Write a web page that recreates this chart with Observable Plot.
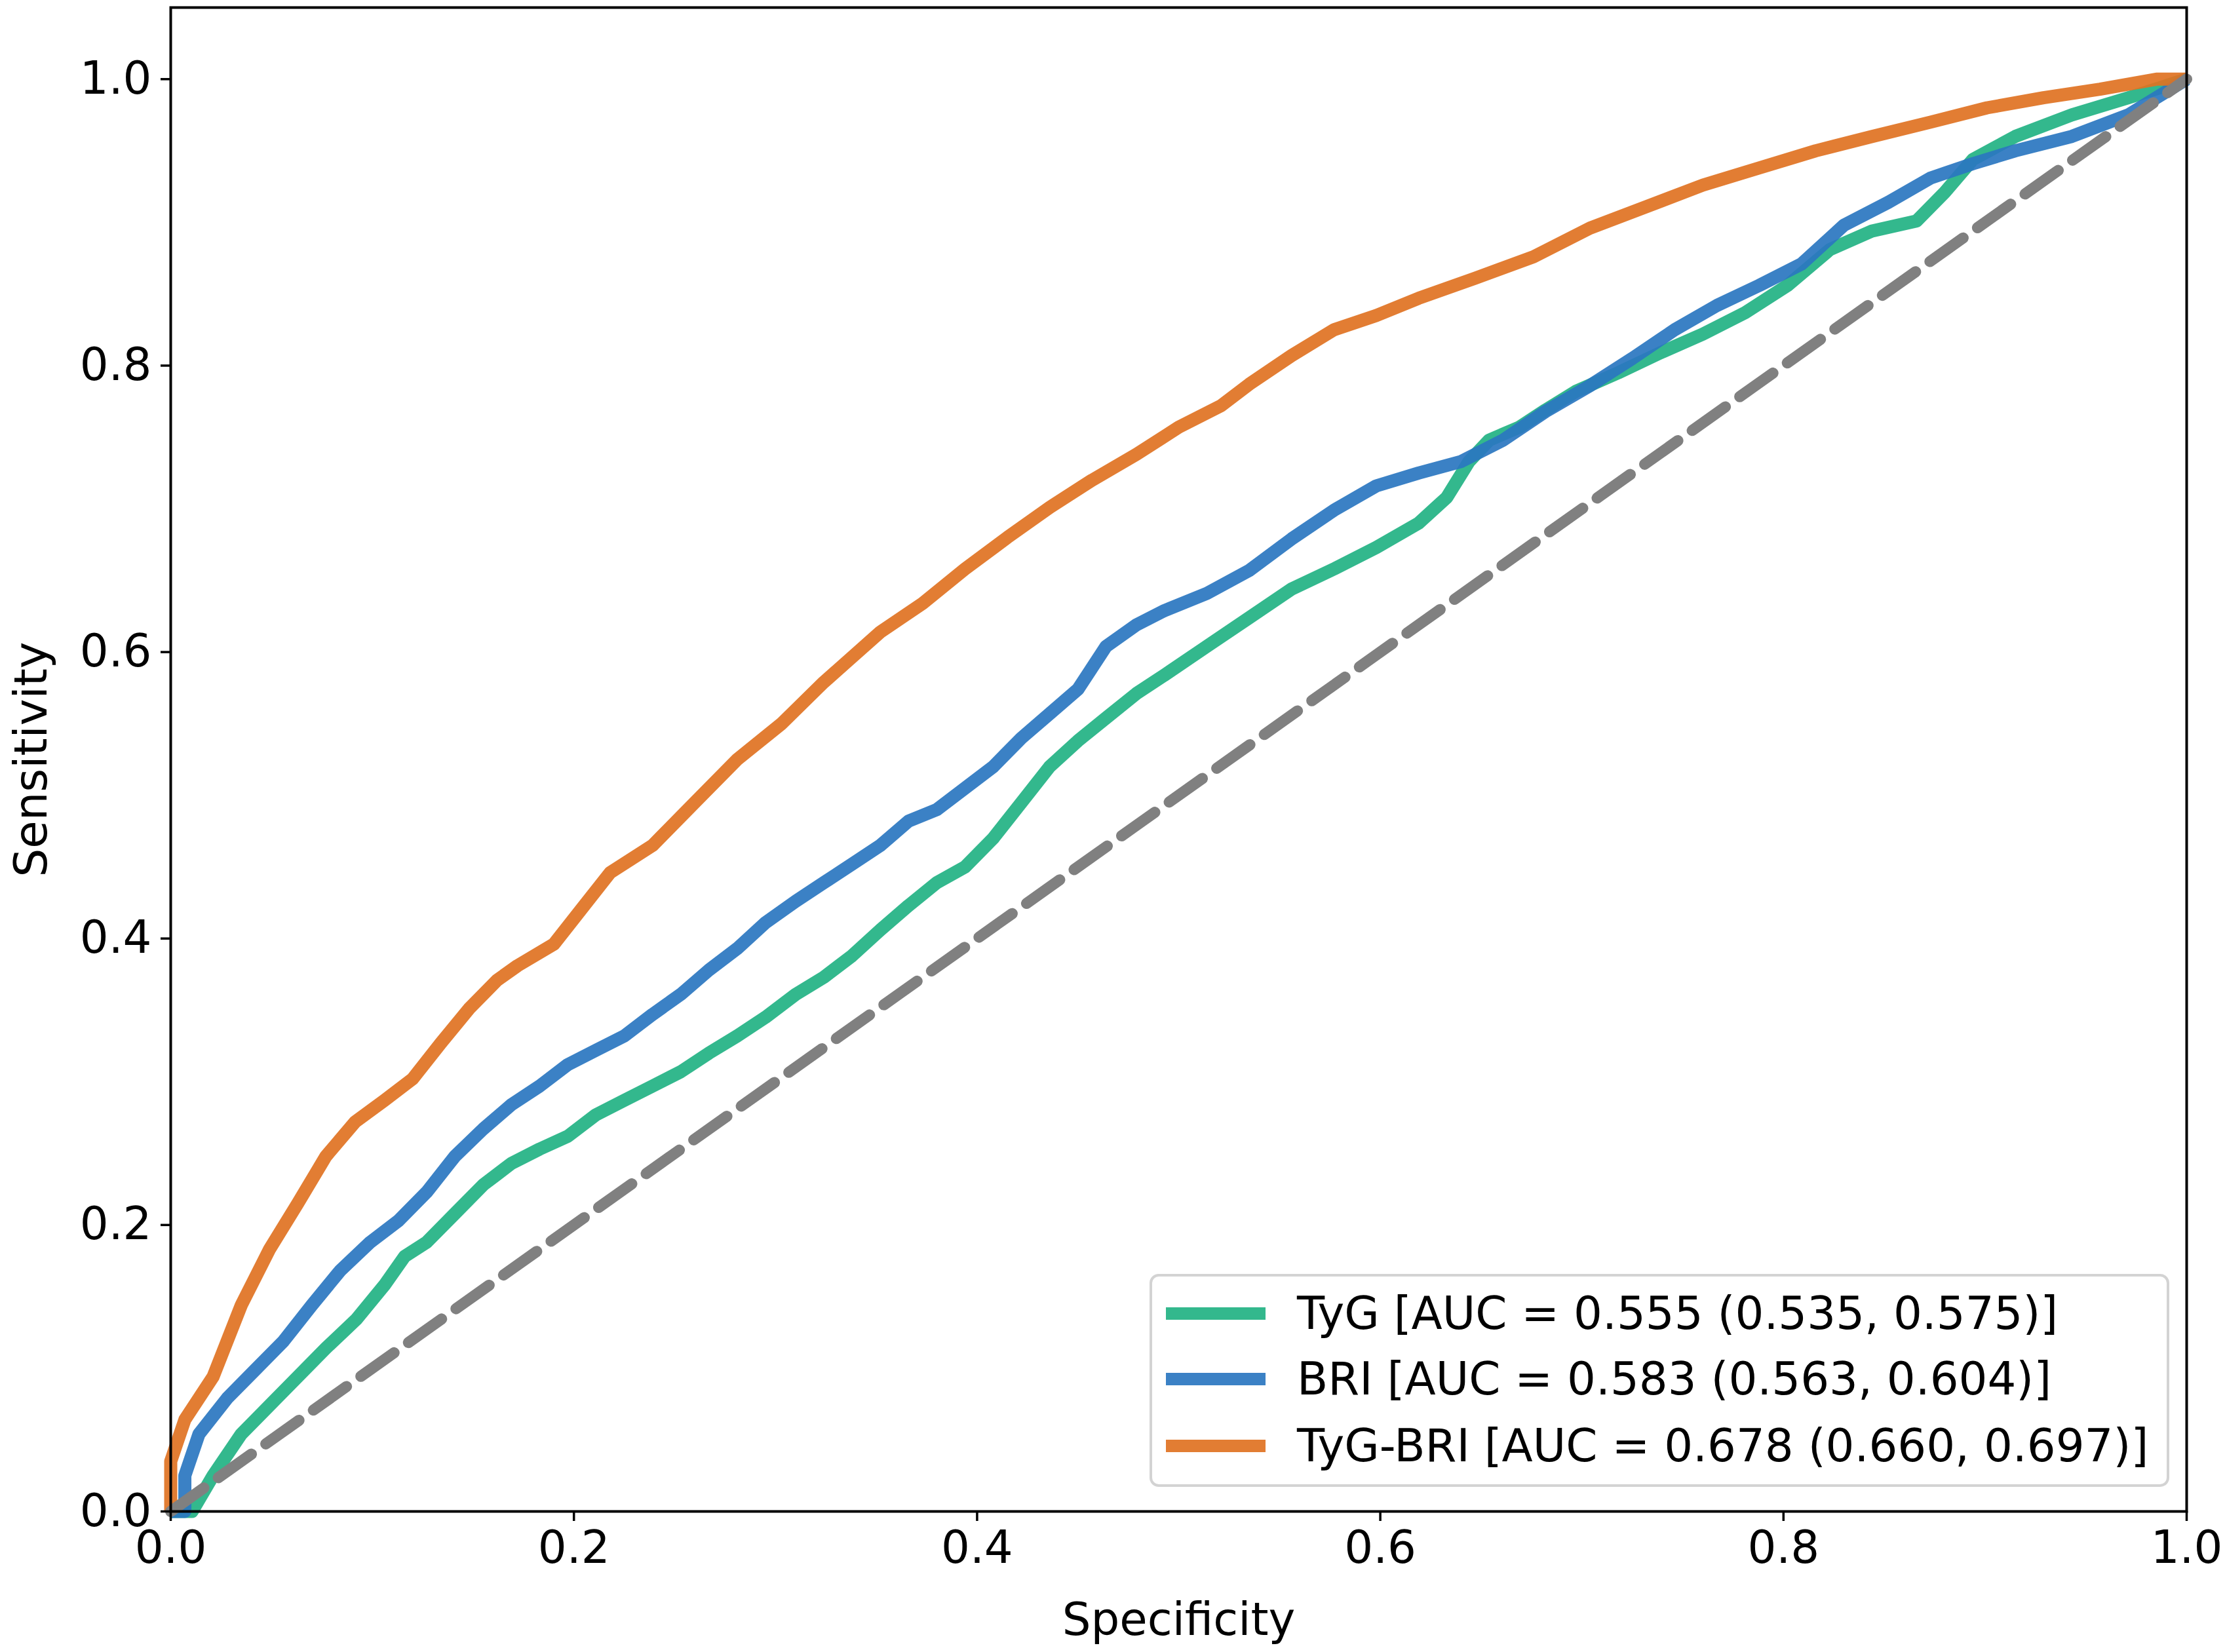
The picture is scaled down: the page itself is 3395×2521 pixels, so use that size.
<!DOCTYPE html>
<html>
<head>
<meta charset="utf-8">
<script src="https://cdn.jsdelivr.net/npm/d3@7"></script>
<script src="https://cdn.jsdelivr.net/npm/@observablehq/plot@0.6"></script>
<style>
  html, body { margin: 0; padding: 0; background: #fff; }
  #wrap { position: relative; width: 3395px; height: 2521px; font-family: "DejaVu Sans", sans-serif; }
  #legend { position: absolute; left: 1754px; top: 1944px; width: 1548px; height: 317px;
    border: 4px solid #d3d3d3; border-radius: 14px; background: rgba(255,255,255,0.85); }
  .sw { position: absolute; left: 21px; width: 152px; height: 19px; }
  .lbl { position: absolute; left: 221px; white-space: nowrap; font-size: 69px; color: #000; line-height: 90px; }
</style>
</head>
<body>
<div id="wrap"></div>
<script>
// ---- data ----
const seriesNames = ["TyG", "BRI", "TyG-BRI"];
const seriesLabels = [
  "TyG [AUC = 0.555 (0.535, 0.575)]",
  "BRI [AUC = 0.583 (0.563, 0.604)]",
  "TyG-BRI [AUC = 0.678 (0.660, 0.697)]"
];
const seriesColors = ["#22b283", "#2a76c0", "#df7222"];

const tygX = [0, 0.0106, 0.021, 0.035, 0.049, 0.063, 0.077, 0.092, 0.106, 0.116, 0.127, 0.141, 0.155, 0.169, 0.183, 0.197, 0.211, 0.225, 0.239, 0.253, 0.267, 0.281, 0.295, 0.31, 0.324, 0.338, 0.352, 0.366, 0.38, 0.394, 0.408, 0.422, 0.436, 0.45, 0.464, 0.479, 0.493, 0.514, 0.535, 0.556, 0.577, 0.598, 0.619, 0.633, 0.644, 0.654, 0.669, 0.682, 0.697, 0.718, 0.739, 0.76, 0.781, 0.802, 0.823, 0.844, 0.866, 0.88, 0.894, 0.915, 0.943, 0.971, 1.0];
const tygY = [0, 0, 0.025, 0.054, 0.074, 0.094, 0.114, 0.134, 0.158, 0.178, 0.188, 0.208, 0.228, 0.243, 0.253, 0.262, 0.277, 0.287, 0.297, 0.307, 0.32, 0.332, 0.345, 0.361, 0.373, 0.388, 0.406, 0.423, 0.439, 0.45, 0.47, 0.495, 0.52, 0.538, 0.554, 0.571, 0.584, 0.604, 0.624, 0.644, 0.658, 0.673, 0.69, 0.708, 0.733, 0.748, 0.757, 0.769, 0.782, 0.795, 0.809, 0.822, 0.837, 0.856, 0.881, 0.894, 0.901, 0.921, 0.944, 0.96, 0.975, 0.987, 1.0];

const briX = [0, 0.007, 0.007, 0.014, 0.028, 0.042, 0.056, 0.07, 0.084, 0.099, 0.113, 0.127, 0.141, 0.155, 0.169, 0.183, 0.197, 0.211, 0.225, 0.239, 0.253, 0.267, 0.281, 0.295, 0.31, 0.324, 0.338, 0.352, 0.366, 0.38, 0.394, 0.408, 0.422, 0.436, 0.45, 0.464, 0.479, 0.493, 0.514, 0.535, 0.556, 0.577, 0.598, 0.619, 0.64, 0.661, 0.682, 0.704, 0.725, 0.746, 0.767, 0.788, 0.809, 0.83, 0.852, 0.873, 0.894, 0.915, 0.943, 0.971, 1.0];
const briY = [0, 0, 0.025, 0.054, 0.079, 0.099, 0.119, 0.144, 0.168, 0.188, 0.203, 0.223, 0.248, 0.267, 0.284, 0.297, 0.312, 0.322, 0.332, 0.347, 0.361, 0.378, 0.393, 0.411, 0.426, 0.439, 0.452, 0.465, 0.482, 0.49, 0.505, 0.52, 0.54, 0.557, 0.574, 0.604, 0.619, 0.629, 0.641, 0.657, 0.679, 0.699, 0.716, 0.725, 0.733, 0.748, 0.768, 0.786, 0.805, 0.825, 0.842, 0.856, 0.871, 0.898, 0.914, 0.931, 0.941, 0.95, 0.96, 0.975, 1.0];

const tygbriX = [0, 0, 0.007, 0.021, 0.035, 0.049, 0.063, 0.077, 0.0915, 0.106, 0.12, 0.134, 0.148, 0.162, 0.172, 0.19, 0.204, 0.218, 0.239, 0.26, 0.281, 0.303, 0.324, 0.352, 0.373, 0.394, 0.415, 0.436, 0.457, 0.479, 0.5, 0.521, 0.535, 0.556, 0.577, 0.598, 0.619, 0.647, 0.676, 0.704, 0.732, 0.76, 0.788, 0.816, 0.844, 0.873, 0.901, 0.929, 0.957, 0.985, 1.0];
const tygbriY = [0, 0.035, 0.064, 0.094, 0.144, 0.183, 0.215, 0.248, 0.272, 0.287, 0.302, 0.327, 0.351, 0.371, 0.381, 0.396, 0.421, 0.446, 0.465, 0.495, 0.525, 0.55, 0.579, 0.614, 0.634, 0.658, 0.68, 0.701, 0.72, 0.738, 0.757, 0.772, 0.787, 0.807, 0.825, 0.835, 0.847, 0.861, 0.876, 0.896, 0.911, 0.926, 0.938, 0.95, 0.96, 0.97, 0.98, 0.987, 0.993, 1.0, 1.0];

const diagX = [0, 1];
const diagY = [0, 1];

const xTicks = [0, 0.2, 0.4, 0.6, 0.8, 1.0];
const yTicks = [0, 0.2, 0.4, 0.6, 0.8, 1.0];

// ---- build table ----
const seriesX = [tygX, briX, tygbriX];
const seriesY = [tygY, briY, tygbriY];
const rows = [];
seriesNames.forEach((name, i) => {
  seriesX[i].forEach((x, j) => rows.push({series: name, spec: x, sens: seriesY[i][j]}));
});
const diag = diagX.map((x, i) => ({spec: x, sens: diagY[i]}));

const FS = 69;
const LW = 20;

const chart = Plot.plot({
  width: 3395,
  height: 2521,
  marginLeft: 260,
  marginRight: 59,
  marginTop: 11,
  marginBottom: 215,
  style: {fontFamily: "DejaVu Sans, sans-serif", fontSize: FS + "px", background: "#fff", color: "#000"},
  x: {domain: [0, 1]},
  y: {domain: [0, 1.05]},
  color: {domain: seriesNames, range: seriesColors},
  marks: [
    Plot.line(rows, {x: "spec", y: "sens", z: "series", stroke: "series", strokeWidth: LW, strokeOpacity: 0.92, strokeLinejoin: "round", strokeLinecap: "butt"}),
    Plot.line(diag, {x: "spec", y: "sens", stroke: "#808080", strokeWidth: 17, strokeDasharray: "62,27"}),
    Plot.frame({stroke: "#000", strokeWidth: 4}),
    Plot.axisX({ticks: xTicks, tickFormat: d3.format(".1f"), tickSize: 15, tickPadding: 14, strokeWidth: 3.5, fontSize: FS, label: null}),
    Plot.axisY({ticks: yTicks, tickFormat: d3.format(".1f"), tickSize: 15, tickPadding: 14, strokeWidth: 3.5, fontSize: FS, label: null}),
    Plot.text(["Specificity"], {frameAnchor: "bottom", dy: 166, fontSize: FS, lineAnchor: "middle", fill: "#000"}),
    Plot.text(["Sensitivity"], {frameAnchor: "left", dx: -212, rotate: -90, fontSize: FS, textAnchor: "middle", lineAnchor: "middle", fill: "#000"})
  ]
});

const wrap = document.getElementById("wrap");
wrap.appendChild(chart);

// legend overlay
const legend = document.createElement("div");
legend.id = "legend";
const rowTops = [11, 111, 213];
seriesLabels.forEach((lab, i) => {
  const sw = document.createElement("div");
  sw.className = "sw";
  sw.style.top = (rowTops[i] + 45 - 9.5) + "px";
  sw.style.background = seriesColors[i];
  sw.style.opacity = 0.92;
  legend.appendChild(sw);
  const t = document.createElement("div");
  t.className = "lbl";
  t.style.top = rowTops[i] + "px";
  t.textContent = lab;
  legend.appendChild(t);
});
wrap.appendChild(legend);
</script>
</body>
</html>
